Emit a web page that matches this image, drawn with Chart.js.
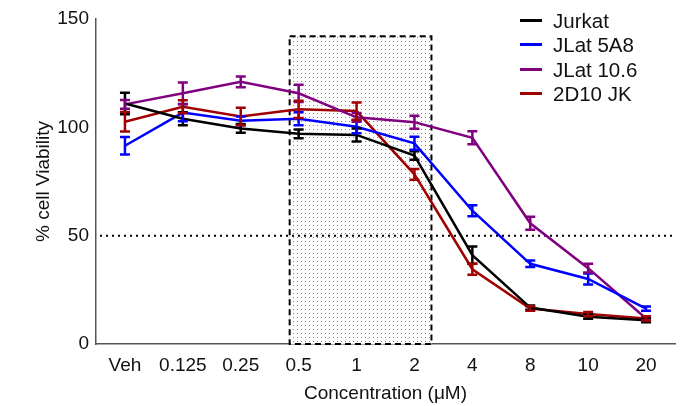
<!DOCTYPE html>
<html>
<head>
<meta charset="utf-8">
<script src="https://cdn.jsdelivr.net/npm/chart.js@4.4.1/dist/chart.umd.min.js"></script>
<style>
  body { margin: 0; background: #fff; }
  #wrap { position: relative; width: 682px; height: 406px; }
  #legend { position: absolute; left: 520px; top: 9px; font-family: "Liberation Sans", Arial, sans-serif; font-size: 20.5px; color: #111; }
  #legend div { height: 24.4px; line-height: 24px; white-space: nowrap; }
  #legend span.sw { display: inline-block; width: 22px; height: 3px; vertical-align: middle; margin-right: 11px; position: relative; top: -2px; }
</style>
</head>
<body>
<div id="wrap">
  <canvas id="grafico" width="682" height="406"></canvas>
  <div id="legend"></div>
</div>
<script>
// categorias del eje X (concentraciones)
const categorias = ["Veh", "0.125", "0.25", "0.5", "1", "2", "4", "8", "10", "20"];

// valores medios de viabilidad (%)
const jurkat    = [111, 104, 99.5, 97, 96.5, 87, 41, 16.8, 12.6, 11];
const jlat5a8   = [91.5, 106.8, 103, 104, 100.3, 92.6, 61.5, 37, 30, 16.3];
const jlat106   = [110.6, 115.7, 121, 115.7, 104.6, 102.4, 95.2, 55.7, 35, 11.8];
const d2d10jk   = [102.6, 109.5, 105, 108.3, 107.5, 78.3, 34.5, 16.4, 13.8, 11.8];

// barras de error (SEM aprox.)
const errJurkat  = [5, 3, 2, 2, 3, 2, 4, 1, 1, 1];
const errJlat5a8 = [4, 4, 2, 3, 3, 3, 2.5, 1.5, 2.5, 1];
const errJlat106 = [2, 5, 2.5, 4, 2, 3, 3, 3, 2, 1];
const err2d10jk  = [4.5, 3, 4, 4, 4, 2.5, 2.5, 1, 1, 1];

const ticksY = [0, 50, 100, 150];

const series = [
  { label: "Jurkat",     data: jurkat,  err: errJurkat,  color: "#000000" },
  { label: "JLat 5A8",   data: jlat5a8, err: errJlat5a8, color: "#0000ff" },
  { label: "JLat 10.6",  data: jlat106, err: errJlat106, color: "#800080" },
  { label: "2D10 JK",    data: d2d10jk, err: err2d10jk,  color: "#a00000" }
];

const fuente = "'Liberation Sans', Arial, sans-serif";

// patron de puntos para el recuadro sombreado
function patronPuntos(ctx) {
  const c = document.createElement("canvas");
  c.width = 4; c.height = 4;
  const p = c.getContext("2d");
  p.fillStyle = "#fff";
  p.fillRect(0, 0, 4, 4);
  p.fillStyle = "#8a8a8a";
  p.fillRect(1, 1, 1, 1);
  return ctx.createPattern(c, "repeat");
}

// recuadro punteado y linea del 50%
const fondoPlugin = {
  id: "fondo",
  beforeDatasetsDraw(chart) {
    const { ctx, chartArea, scales } = chart;
    const x = scales.x, y = scales.y;
    const x0 = x.getPixelForValue(3) - 9;
    const x1 = x.getPixelForValue(5) + 17;
    const yTop = y.getPixelForValue(142);
    const yBot = y.getPixelForValue(0);
    ctx.save();
    ctx.fillStyle = patronPuntos(ctx);
    ctx.fillRect(x0, yTop, x1 - x0, yBot - yTop);
    ctx.setLineDash([6, 4]);
    ctx.lineWidth = 2;
    ctx.strokeStyle = "#000";
    ctx.strokeRect(x0, yTop, x1 - x0, yBot - yTop);
    // linea horizontal punteada en 50
    const y50 = y.getPixelForValue(50);
    ctx.setLineDash([2, 4]);
    ctx.beginPath();
    ctx.moveTo(chartArea.left + 4, y50);
    ctx.lineTo(chartArea.right, y50);
    ctx.stroke();
    ctx.restore();
  }
};

// barras de error con tapas
const errorPlugin = {
  id: "errores",
  afterDatasetsDraw(chart) {
    const { ctx, scales } = chart;
    ctx.save();
    ctx.lineWidth = 2.5;
    series.forEach((s) => {
      ctx.strokeStyle = s.color;
      s.data.forEach((v, i) => {
        const px = scales.x.getPixelForValue(i);
        const yHi = scales.y.getPixelForValue(v + s.err[i]);
        const yLo = scales.y.getPixelForValue(v - s.err[i]);
        ctx.beginPath();
        ctx.moveTo(px, yHi); ctx.lineTo(px, yLo);
        ctx.moveTo(px - 5, yHi); ctx.lineTo(px + 5, yHi);
        ctx.moveTo(px - 5, yLo); ctx.lineTo(px + 5, yLo);
        ctx.stroke();
      });
    });
    ctx.restore();
  }
};

let miCanva = document.getElementById("grafico").getContext("2d");

var chart = new Chart(miCanva, {
  type: "line",
  data: {
    labels: categorias,
    datasets: series.map(s => ({
      label: s.label,
      data: s.data,
      borderColor: s.color,
      backgroundColor: s.color,
      borderWidth: 2.5,
      pointRadius: 0,
      tension: 0
    }))
  },
  options: {
    responsive: false,
    animation: false,
    layout: { padding: { top: 19, right: 7, left: 0, bottom: 0 } },
    plugins: { legend: { display: false }, tooltip: { enabled: false } },
    scales: {
      x: {
        offset: true,
        grid: { display: false, drawTicks: true, tickLength: 5, color: "#555" },
        border: { color: "#555", width: 1.5 },
        ticks: { color: "#111", font: { family: fuente, size: 19 }, padding: 5 },
        title: { display: true, text: "Concentration (\u03bcM)", color: "#111", font: { family: fuente, size: 19 }, padding: { top: 2, bottom: 1 } },
        afterFit(s) { s.height = 62; }
      },
      y: {
        min: 0, max: 150,
        afterBuildTicks(s) { s.ticks = ticksY.map(v => ({ value: v })); },
        grid: { display: false, drawTicks: true, tickLength: 5, color: "#555" },
        border: { color: "#555", width: 1.5 },
        ticks: { color: "#111", font: { family: fuente, size: 19 }, padding: 2 },
        title: { display: true, text: "% cell Viability", color: "#111", font: { family: fuente, size: 19 }, padding: { top: 32, bottom: 2 } },
        afterFit(s) { s.width = 96; }
      }
    }
  },
  plugins: [fondoPlugin, errorPlugin]
});

// leyenda en HTML
const leyenda = document.getElementById("legend");
series.forEach(s => {
  const d = document.createElement("div");
  d.innerHTML = '<span class="sw" style="background:' + s.color + '"></span>' + s.label;
  leyenda.appendChild(d);
});
</script>
</body>
</html>
